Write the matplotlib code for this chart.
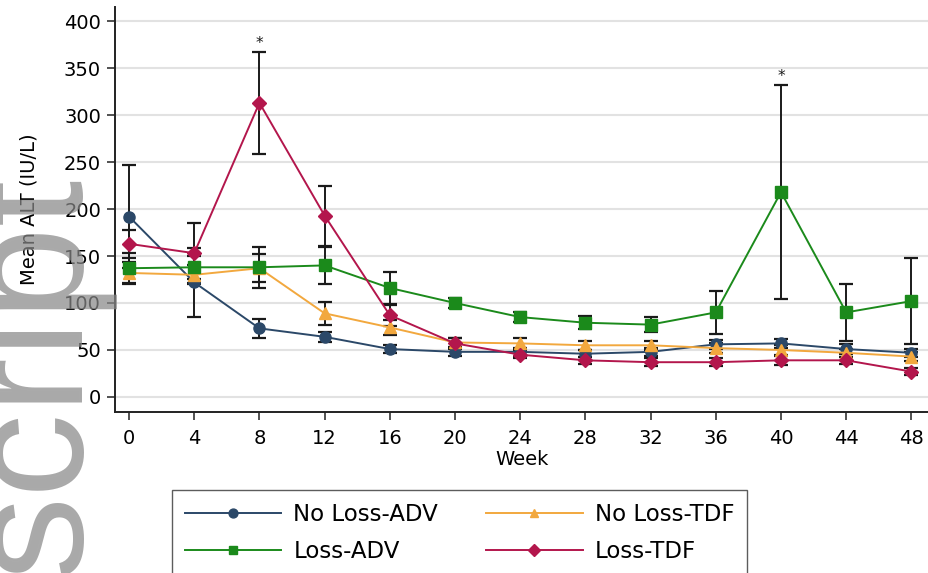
import matplotlib
matplotlib.use('Agg')
import matplotlib.pyplot as plt
import numpy as np

# Data
weeks = [0, 4, 8, 12, 16, 20, 24, 28, 32, 36, 40, 44, 48]

no_loss_adv = [192, 122, 73, 64, 51, 48, 48, 46, 48, 56, 57, 51, 47]
no_loss_adv_se = [55, 37, 10, 5, 4, 4, 4, 4, 4, 5, 5, 5, 4]

no_loss_tdf = [132, 130, 137, 89, 74, 58, 57, 55, 55, 52, 50, 47, 43]
no_loss_tdf_se = [12, 10, 15, 12, 8, 5, 6, 5, 5, 5, 5, 4, 5]

loss_adv = [137, 138, 138, 140, 116, 100, 85, 79, 77, 90, 218, 90, 102]
loss_adv_se = [16, 12, 22, 20, 17, 5, 5, 7, 8, 23, 114, 30, 46]

loss_tdf = [163, 153, 313, 193, 87, 57, 45, 39, 37, 37, 39, 39, 27]
loss_tdf_se = [15, 32, 54, 32, 11, 6, 4, 4, 4, 4, 5, 4, 4]

# weeks with a significance star above the error bar
star_weeks = [8, 40]
star_values = [367, 332]

series = [
    ('No Loss-ADV', no_loss_adv, no_loss_adv_se, '#2b4868', 'o', 8),
    ('No Loss-TDF', no_loss_tdf, no_loss_tdf_se, '#f2a83e', '^', 8),
    ('Loss-ADV', loss_adv, loss_adv_se, '#1b8a1b', 's', 8),
    ('Loss-TDF', loss_tdf, loss_tdf_se, '#b3164c', 'D', 7.5),
]

fig = plt.figure(figsize=(9.29, 5.73), dpi=100)
ax = fig.add_axes([115 / 929, 161 / 573, (929 - 115) / 929, 405 / 573])

# error bars first
for name, vals, se, color, marker, ms in series:
    ax.errorbar(weeks, vals, yerr=se, fmt='none', ecolor='#1a1a1a',
                elinewidth=1.4, capsize=5, capthick=1.6, zorder=2)

handles = {}
for name, vals, se, color, marker, ms in series:
    line, = ax.plot(weeks, vals, color=color, marker=marker, markersize=ms,
                    linewidth=1.4, zorder=3, label=name)
    handles[name] = line

for w, v in zip(star_weeks, star_values):
    ax.text(w, v + 1, '*', ha='center', va='bottom', fontsize=11, color='#1a1a1a')

ax.set_xlim(-0.86, 49.08)
ax.set_ylim(-16, 415)
ax.set_xticks(weeks)
ax.set_yticks(np.arange(0, 401, 50))
ax.tick_params(axis='both', direction='out', length=6, width=1.2, labelsize=14,
               color='#333333')
ax.tick_params(axis='x', pad=6)
ax.tick_params(axis='y', pad=4)
ax.yaxis.grid(True, color='#e2e2e2', linewidth=1.5)
ax.set_axisbelow(True)
for s in ['top', 'right']:
    ax.spines[s].set_visible(False)
for s in ['left', 'bottom']:
    ax.spines[s].set_linewidth(1.4)
    ax.spines[s].set_color('#222222')

ax.set_xlabel('Week', fontsize=14, labelpad=2)
ax.set_ylabel('Mean ALT (IU/L)', fontsize=14, labelpad=18)

# legend: two columns, ADV on the left, TDF on the right
order = ['No Loss-ADV', 'Loss-ADV', 'No Loss-TDF', 'Loss-TDF']
leg = fig.legend([handles[n] for n in order], order, ncol=2,
                 loc='upper left', bbox_to_anchor=(172 / 929, 1 - 490 / 573),
                 fontsize=16.5, handlelength=4.2, handletextpad=0.55,
                 columnspacing=2.1, borderpad=0.55, borderaxespad=0,
                 labelspacing=0.62, markerscale=0.8,
                 frameon=True, fancybox=False)
leg.get_frame().set_edgecolor('#333333')
leg.get_frame().set_linewidth(1.0)

# watermark
fig.text(78 / 929, -3 / 573, 'script', rotation=90, rotation_mode='anchor',
         ha='left', va='baseline', fontsize=121, color='#888888', alpha=0.72,
         family='Liberation Sans', zorder=10)

plt.savefig('out.png', dpi=100)
